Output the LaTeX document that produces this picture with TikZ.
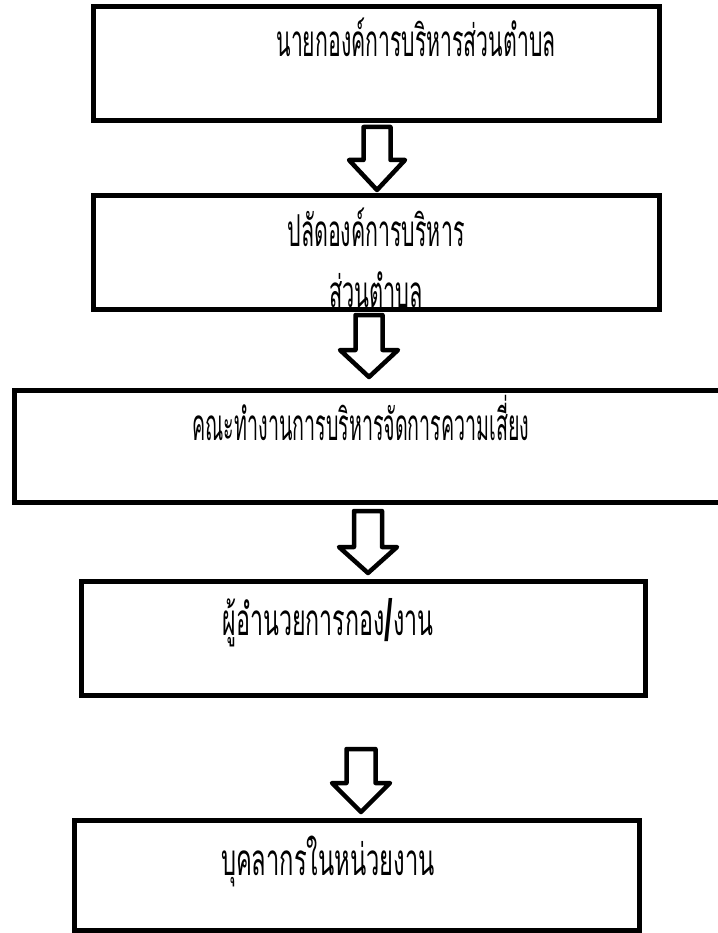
\documentclass[tikz,border=0pt]{standalone}
\usepackage{fontspec}
\newfontfamily\thaifont[Script=Thai]{Loma}
\newfontfamily\slashfont{Liberation Sans}
\newcommand{\tw}[2]{\resizebox{#1pt}{\height}{#2}}
\begin{document}
\begin{tikzpicture}[x=1pt,y=-1pt,
  box/.style={draw=black, line width=5pt, inner sep=0pt, fill=none},
  lbl/.style={inner sep=0pt, anchor=base, font=\thaifont\fontsize{44}{44}\selectfont},
  barrow/.style={draw=black, line width=4.5pt, line join=round, fill=white}]
\useasboundingbox[fill=white] (0,0) rectangle (717,933);
% boxes
\node[box, minimum width=566pt, minimum height=114pt] (b1) at (376.5,63.5) {};
\node[box, minimum width=566pt, minimum height=114pt] (b2) at (376.5,252.5) {};
\node[box, minimum width=740pt, minimum height=112pt] (b3) at (384.5,446.5) {};
\node[box, minimum width=564pt, minimum height=114pt] (b4) at (363.5,638.5) {};
\node[box, minimum width=565pt, minimum height=110pt] (b5) at (357,875.5) {};
% texts
\node[lbl] (t1) at (416,57) {\tw{279}{นายกองค์การบริหารส่วนตำบล}};
\node[lbl] (t2a) at (376,246) {\tw{177}{ปลัดองค์การบริหาร}};
\node[lbl] (t2b) at (376,307) {\tw{94}{ส่วนตำบล}};
\node[lbl] (t3) at (361,440) {\tw{337}{คณะทำงานการบริหารจัดการความเสี่ยง}};
\node[lbl] (t4) at (328,635) {\tw{211}{ผู้อำนวยการกอง\raisebox{-5pt}{\slashfont\bfseries\fontsize{58}{58}\selectfont/}งาน}};
\node[lbl] (t5) at (328,875) {\tw{214}{บุคลากรในหน่วยงาน}};
% block arrows
\newcommand{\blockarr}[6]{% cx, top, base, tip, shaft half, head half
  \draw[barrow] (#1-#5,#2) -- (#1+#5,#2) -- (#1+#5,#3) -- (#1+#6,#3) -- (#1,#4)
     -- (#1-#6,#3) -- (#1-#5,#3) -- cycle;}
\blockarr{377}{127}{160}{190}{13.5}{28}
\blockarr{369}{315}{350}{377}{13.5}{29}
\blockarr{368}{511}{547}{573}{14}{29}
\blockarr{361}{749}{783}{812}{14.5}{29}
\end{tikzpicture}
\end{document}
